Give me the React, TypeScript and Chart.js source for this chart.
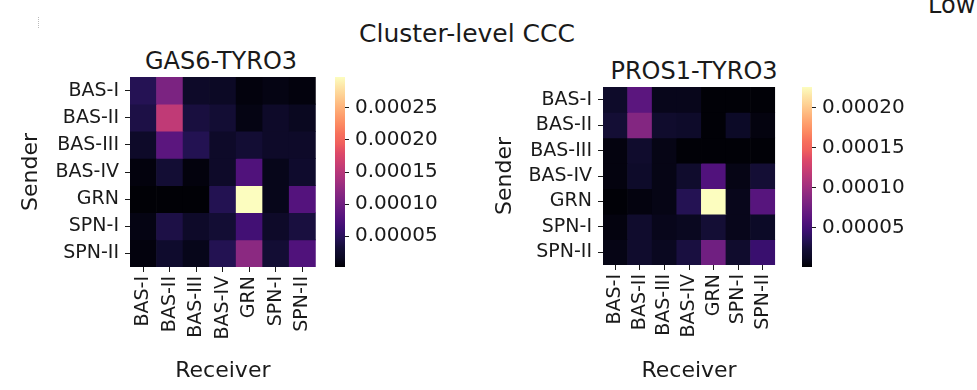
import React, { useEffect, useRef } from "react";
import { Chart, registerables } from "chart.js";

Chart.register(...registerables);

const SENDERS = ["BAS-I", "BAS-II", "BAS-III", "BAS-IV", "GRN", "SPN-I", "SPN-II"];
const RECEIVERS = ["BAS-I", "BAS-II", "BAS-III", "BAS-IV", "GRN", "SPN-I", "SPN-II"];

// rows = sender, columns = receiver
const GAS6_VALUES = [
  [0.000046, 0.000108, 0.000021, 0.000018, 0.000006, 0.000009, 0.000006],
  [0.000039, 0.000156, 0.000036, 0.00003, 0.000009, 0.000021, 0.000015],
  [0.000021, 0.000084, 0.000045, 0.000021, 0.00003, 0.000021, 0.000021],
  [0.000006, 0.00003, 0.000006, 0.000021, 0.000075, 0.000012, 0.000024],
  [0.000003, 0.000003, 0.000003, 0.000045, 0.000298, 0.000012, 0.000078],
  [0.000009, 0.000039, 0.000021, 0.00003, 0.000066, 0.000021, 0.000036],
  [0.000006, 0.000024, 0.000012, 0.000045, 0.00012, 0.00003, 0.000075],
];
const PROS1_VALUES = [
  [0.000016, 0.000063, 0.000009, 0.000009, 0.000002, 0.000002, 0.000002],
  [0.000023, 0.000086, 0.000018, 0.000016, 0.000002, 0.000014, 0.000005],
  [0.000005, 0.000018, 0.000007, 0.000002, 0.000002, 0.000002, 0.000002],
  [0.000005, 0.000016, 0.000007, 0.000018, 0.000057, 0.000007, 0.000023],
  [0.000002, 0.000005, 0.000007, 0.000034, 0.000226, 0.000009, 0.000061],
  [0.000005, 0.000018, 0.000009, 0.000011, 0.000023, 0.000009, 0.000014],
  [0.000007, 0.000018, 0.000011, 0.000027, 0.000075, 0.000018, 0.000045],
];
const GAS6_RANGE = [0.000002, 0.000298];
const PROS1_RANGE = [0.000001, 0.000226];
const GAS6_TICKS = [0.00005, 0.0001, 0.00015, 0.0002, 0.00025];
const PROS1_TICKS = [0.00005, 0.0001, 0.00015, 0.0002];

const FONT = "'DejaVu Sans', sans-serif";
const TEXT = "#1a1a1a";

const MAGMA: [number, string][] = [
  [0.0, "#000004"], [0.05, "#0b0924"], [0.1, "#140e36"], [0.15, "#251255"],
  [0.2, "#3b0f70"], [0.25, "#51127c"], [0.3, "#641a80"], [0.35, "#782281"],
  [0.4, "#8c2981"], [0.45, "#a3307e"], [0.5, "#b73779"], [0.55, "#cc3f71"],
  [0.6, "#de4968"], [0.65, "#f0605d"], [0.7, "#f7705c"], [0.75, "#fc8961"],
  [0.8, "#fe9f6d"], [0.85, "#feb77e"], [0.9, "#fecf92"], [0.95, "#fde5a7"],
  [1.0, "#fcfdbf"],
];

function hex(c: string) {
  return [1, 3, 5].map((i) => parseInt(c.slice(i, i + 2), 16));
}
function magma(t: number) {
  const x = Math.max(0, Math.min(1, t));
  for (let i = 0; i < MAGMA.length - 1; i++) {
    const [t0, c0] = MAGMA[i];
    const [t1, c1] = MAGMA[i + 1];
    if (x <= t1) {
      const f = (x - t0) / (t1 - t0);
      const a = hex(c0), b = hex(c1);
      const r = a.map((v, k) => Math.round(v + (b[k] - v) * f));
      return `rgb(${r[0]},${r[1]},${r[2]})`;
    }
  }
  return MAGMA[MAGMA.length - 1][1];
}

type HeatProps = {
  values: number[][];
  range: number[];
  left: number; width: number;
  padTop: number; padRight: number;
  yWidth: number; xHeight: number;
  senderPad: number;
};

function Heatmap(p: HeatProps) {
  const ref = useRef<HTMLCanvasElement>(null);
  useEffect(() => {
    const [vmin, vmax] = p.range;
    const chart = new Chart(ref.current!, {
      type: "bar",
      data: {
        labels: RECEIVERS,
        datasets: SENDERS.map((s, i) => ({
          label: s,
          data: RECEIVERS.map(() => 1),
          backgroundColor: p.values[i].map((v) => magma((v - vmin) / (vmax - vmin))),
          borderWidth: 0,
          barPercentage: 1,
          categoryPercentage: 1,
        })),
      },
      options: {
        responsive: false,
        animation: false,
        events: [],
        layout: { padding: { left: 0, right: p.padRight, top: p.padTop, bottom: 0 } },
        plugins: { legend: { display: false }, tooltip: { enabled: false }, title: { display: false } },
        scales: {
          x: {
            stacked: true,
            offset: true,
            grid: { display: true, drawOnChartArea: false, drawTicks: true, tickLength: 5, offset: false, color: TEXT, lineWidth: 1 },
            border: { display: false },
            ticks: { autoSkip: false, minRotation: 90, maxRotation: 90, padding: 4, color: TEXT, font: { family: FONT, size: 19 } },
            title: { display: true, text: "Receiver", color: TEXT, font: { family: FONT, size: 22 }, padding: { top: 0, bottom: 6 } },
            afterFit: (s: any) => { s.height = p.xHeight; },
          },
          y: {
            type: "linear",
            stacked: true,
            reverse: true,
            min: 0,
            max: SENDERS.length,
            grid: { display: true, drawOnChartArea: false, drawTicks: true, tickLength: 5, color: TEXT, lineWidth: 1 },
            border: { display: false },
            afterBuildTicks: (s: any) => { s.ticks = SENDERS.map((_, i) => ({ value: i + 0.5 })); },
            ticks: {
              padding: 6, color: TEXT, font: { family: FONT, size: 19 },
              callback: (v: any) => SENDERS[Math.floor(Number(v))],
            },
            title: { display: true, text: "Sender", color: TEXT, font: { family: FONT, size: 22 }, padding: { top: p.senderPad, bottom: 0 } },
            afterFit: (s: any) => { s.width = p.yWidth; },
          },
        },
      },
    } as any);
    return () => chart.destroy();
  }, []);
  return (
    <canvas ref={ref} width={p.width} height={390}
      style={{ position: "absolute", left: p.left, top: 0, width: p.width, height: 390 }} />
  );
}

type BarProps = {
  range: number[]; ticks: number[];
  left: number; width: number; padLeft: number; padTop: number; padBottom: number; barW: number;
};

function ColorBar(p: BarProps) {
  const ref = useRef<HTMLCanvasElement>(null);
  useEffect(() => {
    const [vmin, vmax] = p.range;
    const chart = new Chart(ref.current!, {
      type: "bar",
      data: {
        labels: ["scale"],
        datasets: [{
          data: [[vmin, vmax]],
          barPercentage: 1,
          categoryPercentage: 1,
          borderWidth: 0,
          inflateAmount: 0,
          backgroundColor: (ctx: any) => {
            const a = ctx.chart.chartArea;
            if (!a) return "#000";
            const g = ctx.chart.ctx.createLinearGradient(0, a.bottom, 0, a.top);
            MAGMA.forEach(([t, c]) => g.addColorStop(t, c));
            return g;
          },
        }],
      },
      options: {
        responsive: false,
        animation: false,
        events: [],
        layout: { padding: { left: p.padLeft, right: 0, top: p.padTop, bottom: p.padBottom } },
        plugins: { legend: { display: false }, tooltip: { enabled: false } },
        scales: {
          x: { display: false },
          y: {
            type: "linear",
            position: "right",
            min: vmin,
            max: vmax,
            grid: { display: true, drawOnChartArea: false, drawTicks: true, tickLength: 4, color: TEXT, lineWidth: 1 },
            border: { display: false },
            afterBuildTicks: (s: any) => { s.ticks = p.ticks.map((v) => ({ value: v })); },
            ticks: { padding: 6, color: TEXT, font: { family: FONT, size: 20 }, callback: (v: any) => Number(v).toFixed(5) },
            afterFit: (s: any) => { s.width = p.width - p.padLeft - p.barW; },
          },
        },
      },
    } as any);
    return () => chart.destroy();
  }, []);
  return (
    <canvas ref={ref} width={p.width} height={390}
      style={{ position: "absolute", left: p.left, top: 0, width: p.width, height: 390 }} />
  );
}

function Label(props: { text: string; cx: number; top: number; size: number }) {
  return (
    <div style={{
      position: "absolute", left: props.cx - 200, width: 400, top: props.top,
      textAlign: "center", fontFamily: FONT, fontSize: props.size, lineHeight: `${props.size}px`,
      color: TEXT, whiteSpace: "nowrap",
    }}>{props.text}</div>
  );
}

export default function App() {
  return (
    <div style={{ position: "absolute", left: 0, top: 0, width: 977, height: 390, background: "#fff", overflow: "hidden" }}>
      <div style={{ position: "absolute", left: 38, top: 17, width: 0, height: 11, borderLeft: "1px dotted #bbb" }} />
      <Label text="Cluster-level CCC" cx={467} top={21} size={25} />
      <div style={{ position: "absolute", left: 928, top: -7, fontFamily: FONT, fontSize: 24, lineHeight: "24px", color: TEXT, whiteSpace: "nowrap" }}>Low</div>
      <Label text="GAS6-TYRO3" cx={221} top={49} size={24} />
      <Label text="PROS1-TYRO3" cx={694} top={59} size={24} />
      <Heatmap values={GAS6_VALUES} range={GAS6_RANGE} left={0} width={330}
        padTop={77} padRight={10} yWidth={130} xHeight={123} senderPad={18} />
      <ColorBar range={GAS6_RANGE} ticks={GAS6_TICKS} left={330} width={130}
        padLeft={5} padTop={77} padBottom={123} barW={10} />
      <Heatmap values={PROS1_VALUES} range={PROS1_RANGE} left={470} width={320}
        padTop={87} padRight={5} yWidth={133} xHeight={125} senderPad={22} />
      <ColorBar range={PROS1_RANGE} ticks={PROS1_TICKS} left={790} width={187}
        padLeft={12} padTop={87} padBottom={123} barW={10} />
    </div>
  );
}
